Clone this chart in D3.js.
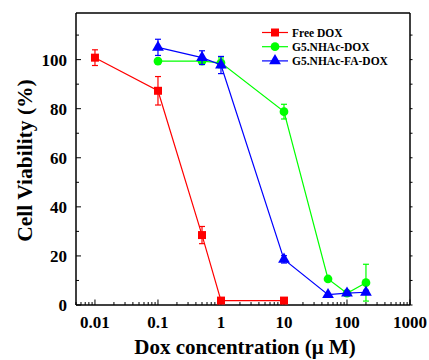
<!DOCTYPE html>
<html>
<head>
<meta charset="utf-8">
<script src="https://cdn.jsdelivr.net/npm/d3@7"></script>
<style>
  body { margin: 0; background: #fff; }
</style>
</head>
<body>
<div id="chart"></div>
<script>
const W = 429, H = 360;
const plotL = 76, plotR = 410, plotT = 13, plotB = 305;

// concentrations (uM)
const freeConc = [0.01, 0.1, 0.5, 1, 10];
const freeVal = [100.8, 87.3, 28.5, 1.8, 1.8];
const freeErr = [3.2, 5.8, 3.5, 0.5, 0.5];

const nhacConc = [0.1, 0.5, 1, 10, 50, 100, 200];
const nhacVal = [99.4, 99.4, 98.7, 78.8, 10.6, 4.8, 9.1];
const nhacErr = [0.8, 1.0, 2.0, 3.0, 0.8, 0.8, 7.5];

const faConc = [0.1, 0.5, 1, 10, 50, 100, 200];
const faVal = [105.0, 100.8, 97.8, 18.6, 4.2, 4.8, 5.2];
const faErr = [3.3, 2.8, 3.5, 1.5, 0.5, 0.8, 0.8];

const xTicks = [0.01, 0.1, 1, 10, 100, 1000];
const xTickLabels = ["0.01", "0.1", "1", "10", "100", "1000"];
const yTicks = [0, 20, 40, 60, 80, 100];
const yMinor = [10, 30, 50, 70, 90, 110];

const seriesNames = ["Free DOX", "G5.NHAc-DOX", "G5.NHAc-FA-DOX"];
const seriesColors = ["#ff0000", "#00ff00", "#0000ff"];
const seriesShapes = [d3.symbolSquare, d3.symbolCircle, d3.symbolTriangle];
const seriesSizes = [64, 60, 60];

var series = [
    {conc: freeConc, val: freeVal, err: freeErr},
    {conc: nhacConc, val: nhacVal, err: nhacErr},
    {conc: faConc, val: faVal, err: faErr}
];

var svg = d3.select("#chart").append("svg")
    .attr("width", W)
    .attr("height", H)
    .attr("font-family", "'Liberation Serif', 'Times New Roman', 'DejaVu Serif', serif")
    .attr("font-weight", "bold");

var x = d3.scaleLog().domain([0.005, 1000]).range([plotL, plotR]);
var y = d3.scaleLinear().domain([0, 119]).range([plotB, plotT]);

// minor log ticks 2..9 for each decade
var minorX = [];
for (var e = -3; e < 3; e++) {
    for (var m = 2; m <= 9; m++) {
        var v = m * Math.pow(10, e);
        if (v >= 0.005 && v <= 1000) minorX.push(v);
    }
}

// bottom axis, ticks pointing inward
var xAxis = svg.append("g").attr("transform", "translate(0," + plotB + ")");
xAxis.append("line").attr("x1", plotL).attr("x2", plotR).attr("stroke", "#000").attr("stroke-width", 1.5);
xAxis.selectAll("line.minor").data(minorX).enter().append("line")
    .attr("x1", d => x(d)).attr("x2", d => x(d))
    .attr("y1", 0).attr("y2", -3)
    .attr("stroke", "#000").attr("stroke-width", 1);
xAxis.selectAll("line.major").data(xTicks).enter().append("line")
    .attr("x1", d => x(d)).attr("x2", d => x(d))
    .attr("y1", 0).attr("y2", -5.5)
    .attr("stroke", "#000").attr("stroke-width", 1);
xAxis.selectAll("text").data(xTicks).enter().append("text")
    .attr("x", d => x(d)).attr("y", 22.5)
    .attr("text-anchor", "middle")
    .attr("font-size", 17)
    .text((d, i) => xTickLabels[i]);

// left axis
var yAxis = svg.append("g").attr("transform", "translate(" + plotL + ",0)");
yAxis.append("line").attr("y1", plotT).attr("y2", plotB).attr("stroke", "#000").attr("stroke-width", 1.5);
yAxis.selectAll("line.major").data(yTicks).enter().append("line")
    .attr("y1", d => y(d)).attr("y2", d => y(d))
    .attr("x1", 0).attr("x2", 5)
    .attr("stroke", "#000").attr("stroke-width", 1);
yAxis.selectAll("line.minor").data(yMinor).enter().append("line")
    .attr("y1", d => y(d)).attr("y2", d => y(d))
    .attr("x1", 0).attr("x2", 3)
    .attr("stroke", "#000").attr("stroke-width", 1);
yAxis.selectAll("text").data(yTicks).enter().append("text")
    .attr("x", -9).attr("y", d => y(d))
    .attr("dy", "0.35em")
    .attr("text-anchor", "end")
    .attr("font-size", 17)
    .text(d => d);

// right axis (mirror, ticks outward)
var rAxis = svg.append("g").attr("transform", "translate(" + plotR + ",0)");
rAxis.append("line").attr("y1", plotT).attr("y2", plotB).attr("stroke", "#000").attr("stroke-width", 1.5);
rAxis.selectAll("line.t").data(yTicks.concat(yMinor)).enter().append("line")
    .attr("y1", d => y(d)).attr("y2", d => y(d))
    .attr("x1", 0).attr("x2", 2.5)
    .attr("stroke", "#000").attr("stroke-width", 1);

// top border
svg.append("line").attr("x1", plotL).attr("x2", plotR).attr("y1", plotT).attr("y2", plotT)
    .attr("stroke", "#000").attr("stroke-width", 1.5);

// axis titles
svg.append("text")
    .attr("x", 245).attr("y", 354)
    .attr("text-anchor", "middle")
    .attr("font-size", 21)
    .text("Dox concentration (\u03bc M)");
svg.append("text")
    .attr("transform", "translate(32,160.5) rotate(-90)")
    .attr("text-anchor", "middle")
    .attr("font-size", 21.5)
    .text("Cell Viability (%)");

var line = d3.line().x(d => x(d[0])).y(d => y(d[1]));

series.forEach((s, k) => {
    var pts = s.conc.map((c, i) => [c, s.val[i], s.err[i]]);
    var g = svg.append("g");
    g.append("path")
        .attr("d", line(pts))
        .attr("fill", "none")
        .attr("stroke", seriesColors[k])
        .attr("stroke-width", 1.2);
    // error bars
    var eb = g.selectAll("g.err").data(pts).enter().append("g");
    eb.append("line")
        .attr("x1", d => x(d[0])).attr("x2", d => x(d[0]))
        .attr("y1", d => y(d[1] + d[2])).attr("y2", d => y(d[1] - d[2]))
        .attr("stroke", seriesColors[k]).attr("stroke-width", 1.2);
    eb.append("line")
        .attr("x1", d => x(d[0]) - 3).attr("x2", d => x(d[0]) + 3)
        .attr("y1", d => y(d[1] + d[2])).attr("y2", d => y(d[1] + d[2]))
        .attr("stroke", seriesColors[k]).attr("stroke-width", 1.2);
    eb.append("line")
        .attr("x1", d => x(d[0]) - 3).attr("x2", d => x(d[0]) + 3)
        .attr("y1", d => y(d[1] - d[2])).attr("y2", d => y(d[1] - d[2]))
        .attr("stroke", seriesColors[k]).attr("stroke-width", 1.2);
    g.selectAll("path.pt").data(pts).enter().append("path")
        .attr("d", d3.symbol().type(seriesShapes[k]).size(seriesSizes[k]))
        .attr("transform", d => "translate(" + x(d[0]) + "," + y(d[1]) + ")")
        .attr("fill", seriesColors[k]);
});

// legend
var legend = svg.append("g");
seriesNames.forEach((name, k) => {
    var ly = 32.5 + k * 14.2;
    legend.append("line")
        .attr("x1", 262).attr("x2", 288).attr("y1", ly).attr("y2", ly)
        .attr("stroke", seriesColors[k]).attr("stroke-width", 1.2);
    legend.append("path")
        .attr("d", d3.symbol().type(seriesShapes[k]).size(seriesSizes[k]))
        .attr("transform", "translate(275," + ly + ")")
        .attr("fill", seriesColors[k]);
    legend.append("text")
        .attr("x", 292).attr("y", ly)
        .attr("dy", "0.35em")
        .attr("font-size", 11.5)
        .text(name);
});
</script>
</body>
</html>
